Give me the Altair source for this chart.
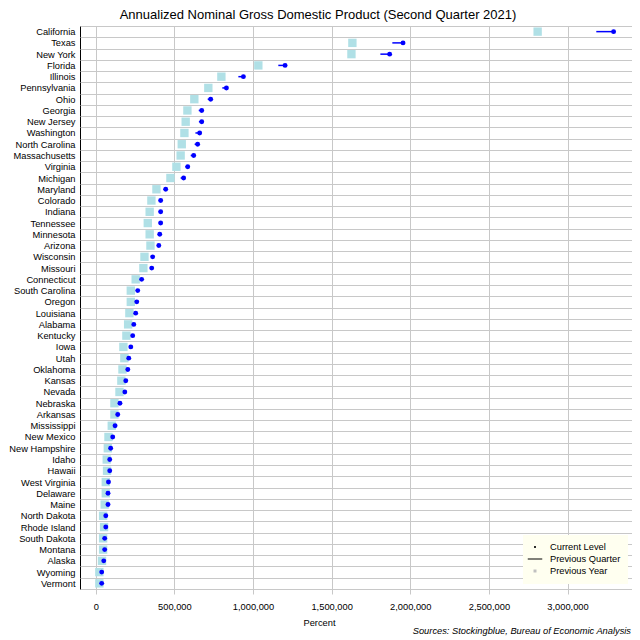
import altair as alt
import pandas as pd

states = ["California", "Texas", "New York", "Florida", "Illinois", "Pennsylvania", "Ohio",
          "Georgia", "New Jersey", "Washington", "North Carolina", "Massachusetts", "Virginia",
          "Michigan", "Maryland", "Colorado", "Indiana", "Tennessee", "Minnesota", "Arizona",
          "Wisconsin", "Missouri", "Connecticut", "South Carolina", "Oregon", "Louisiana",
          "Alabama", "Kentucky", "Iowa", "Utah", "Oklahoma", "Kansas", "Nevada", "Nebraska",
          "Arkansas", "Mississippi", "New Mexico", "New Hampshire", "Idaho", "Hawaii",
          "West Virginia", "Delaware", "Maine", "North Dakota", "Rhode Island", "South Dakota",
          "Montana", "Alaska", "Wyoming", "Vermont"]

current_level = [3293000, 1954000, 1869000, 1204000, 939000, 831000, 731000,
                 674000, 674000, 661000, 648000, 623000, 585000,
                 559000, 445000, 413000, 413000, 413000, 407000, 401000,
                 362000, 356000, 292000, 267000, 261000, 254000,
                 242000, 235000, 223000, 210000, 204000, 191000, 185000, 154000,
                 140000, 123000, 108000, 95000, 89000, 89000,
                 81000, 78000, 78000, 64000, 64000, 57000,
                 57000, 51000, 38000, 38000]

previous_quarter = [3183000, 1886000, 1810000, 1161000, 907000, 805000, 712000,
                    655000, 656000, 634000, 629000, 604000, 570000,
                    540000, 432000, 401000, 400000, 400000, 395000, 389000,
                    351000, 346000, 284000, 259000, 253000, 247000,
                    235000, 228000, 217000, 204000, 198000, 186000, 179000, 149000,
                    136000, 120000, 105000, 92000, 86000, 87000,
                    79000, 76000, 76000, 62000, 62000, 55000,
                    55000, 50000, 37000, 37000]

previous_year = [2810000, 1632000, 1626000, 1034000, 799000, 716000, 627000,
                 583000, 572000, 564000, 547000, 540000, 513000,
                 475000, 386000, 354000, 343000, 331000, 343000, 348000,
                 310000, 303000, 254000, 223000, 223000, 214000,
                 206000, 195000, 176000, 182000, 170000, 163000, 151000, 119000,
                 119000, 102000, 81000, 77000, 70000, 72000,
                 64000, 64000, 57000, 47000, 53000, 47000,
                 47000, 40000, 23000, 23000]

series_names = ["Current Level", "Previous Quarter", "Previous Year"]
x_ticks = [0, 500000, 1000000, 1500000, 2000000, 2500000, 3000000]
title_text = "Annualized Nominal Gross Domestic Product (Second Quarter 2021)"
source_text = "Sources: Stockingblue, Bureau of Economic Analysis"

df = pd.DataFrame({
    "State": states,
    "Current Level": current_level,
    "Previous Quarter": previous_quarter,
    "Previous Year": previous_year,
})

FONT = "Liberation Sans"
FS = 9.3
W, H = 552, 563

xscale = alt.Scale(domain=[-100000, 3410000], nice=False, zero=False)
xaxis = alt.Axis(title="Percent", values=x_ticks, format=",d", grid=True, gridColor="#C8C8C8",
                 domain=False, ticks=True, tickColor="#C8C8C8", tickSize=5,
                 labelFont=FONT, labelFontSize=FS, labelColor="black", labelPadding=8,
                 titleFont=FONT, titleFontSize=FS, titleFontWeight="normal", titleColor="black",
                 titleX=239, titlePadding=7)


def xenc(field):
    return alt.X(field=field, type="quantitative", scale=xscale, axis=xaxis)


yenc = alt.Y("State:N", sort=states,
             scale=alt.Scale(type="band", paddingInner=0, paddingOuter=0),
             axis=alt.Axis(title=None, ticks=False, domain=False, grid=True, tickBand="extent",
                           gridColor="#C8C8C8", labelFont=FONT, labelFontSize=FS,
                           labelColor="black", labelPadding=5))

base = alt.Chart(df)

squares = base.mark_square(size=70, color="#B0E0E6", opacity=1).encode(
    x=xenc("Previous Year"), y=yenc)

rules = base.mark_rule(color="#0000FF", strokeWidth=1.5).encode(
    x=xenc("Previous Quarter"), x2=alt.X2(field="Current Level"), y=yenc)

dots = base.mark_circle(size=24, color="#0000FF", opacity=1).encode(
    x=xenc("Current Level"), y=yenc)

dot_path = "M0.2,0A0.2,0.2,0,1,1,-0.2,0A0.2,0.2,0,1,1,0.2,0Z"
line_path = "M-1.45,-0.1H1.45V0.1H-1.45Z"
sq_path = "M-0.3,-0.3H0.3V0.3H-0.3Z"

leg = alt.Legend(title=None, orient="none", legendX=443, legendY=509, fillColor="#FFFFF0",
                 padding=7, symbolSize=100, symbolStrokeWidth=0, symbolOpacity=1,
                 labelFont=FONT, labelFontSize=FS, labelColor="black", labelOffset=10,
                 rowPadding=1)

legend_layer = base.transform_fold(series_names, as_=["Series", "Value"]).mark_point(
    filled=True, opacity=0).encode(
    x=xenc("Value"), y=yenc,
    color=alt.Color("Series:N", scale=alt.Scale(domain=series_names,
                                                range=["black", "black", "#C0C0C0"]), legend=leg),
    shape=alt.Shape("Series:N", scale=alt.Scale(domain=series_names,
                                                range=[dot_path, line_path, sq_path]), legend=leg),
)

title_layer = alt.Chart(pd.DataFrame({"t": [title_text]})).mark_text(
    align="center", baseline="alphabetic", font=FONT, fontSize=13, color="black"
).encode(text="t:N", x=alt.value(238), y=alt.value(-7.5))

sources = alt.Chart(pd.DataFrame({"t": [source_text]})).mark_text(
    align="right", baseline="middle", font=FONT, fontSize=FS, fontStyle="italic", color="black"
).encode(text="t:N", x=alt.value(551), y=alt.value(605))

chart = alt.layer(squares, rules, dots, legend_layer, title_layer, sources).properties(
    width=W, height=H,
    autosize=alt.AutoSizeParams(type="none"),
    padding={"left": 72, "top": 18, "right": 0, "bottom": 47},
).configure_view(stroke="black", strokeWidth=1)

chart.save("out.html", embed_options={"renderer": "svg", "actions": False})
